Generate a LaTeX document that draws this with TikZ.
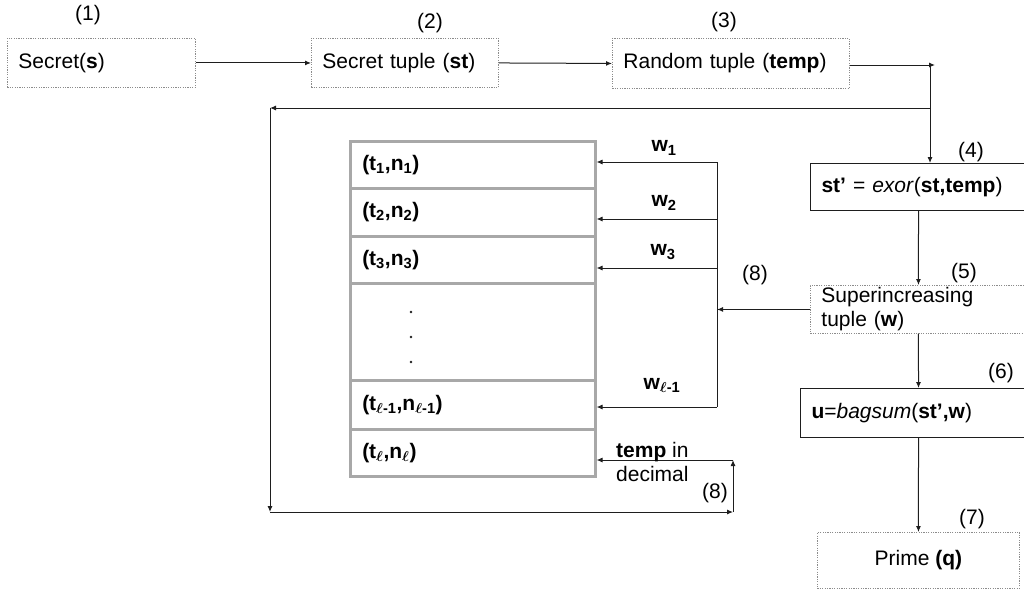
\documentclass[tikz,border=0pt]{standalone}
\usepackage{amsmath}
\usepackage{fontspec}
\setmainfont{Liberation Sans}
\usetikzlibrary{arrows.meta}
\definecolor{boxgray}{HTML}{8C8C8C}
\definecolor{rowgray}{HTML}{A8A8A8}
\definecolor{linegray}{HTML}{1E1E1E}

\begin{document}
\begin{tikzpicture}[x=1pt,y=-1pt,
  every node/.style={font=\fontsize{21}{24}\selectfont, text=black},
  dotbox/.style={draw=boxgray, dash pattern=on 1.2pt off 1.2pt, line width=0.9pt, rectangle, anchor=north west, align=left, inner xsep=11pt, inner ysep=0pt},
  solidbox/.style={draw=linegray, line width=1pt, rectangle, anchor=north west, align=left, inner xsep=11pt, inner ysep=0pt},
  rowbox/.style={draw=rowgray, line width=2.5pt, rectangle, anchor=north west, align=left, inner xsep=12pt, inner ysep=0pt, minimum width=245pt, text width=221pt},
  flow/.style={draw=linegray, line width=1pt, -{Latex[length=6pt,width=5pt]}},
  wire/.style={draw=linegray, line width=1pt},
  numlabel/.style={inner sep=0pt}]
\useasboundingbox (0,0) rectangle (1024,592);

% top row
\node[dotbox, text width=166pt, minimum height=49pt] (secret) at (7,38) {Secret(\textbf{s})};
\node[dotbox, text width=165pt, minimum height=49pt] (tuple) at (311,38) {Secret tuple (\textbf{st})};
\node[dotbox, text width=215pt, minimum height=50pt] (rand) at (612,38) {Random tuple (\textbf{temp})};
\node[numlabel] (n1) at (88,15) {(1)};
\node[numlabel] (n2) at (430,23) {(2)};
\node[numlabel] (n3) at (724,22) {(3)};

% right column
\node[solidbox, text width=194pt, minimum height=47pt] (xor) at (810,163) {\textbf{st'} = \textit{exor}(\textbf{st,temp})};
\node[dotbox, text width=194pt, minimum height=48pt] (sup) at (810,285) {Superincreasing\\tuple (\textbf{w})};
\node[solidbox, text width=214pt, minimum height=49pt] (bag) at (800,388) {\textbf{u}=\textit{bagsum}(\textbf{st',w})};
\node[dotbox, minimum width=202pt, minimum height=56pt, align=center] (prime) at (817,532) {Prime \textbf{(q)}};
\node[numlabel] (n4) at (971,152) {(4)};
\node[numlabel] (n5) at (964,273) {(5)};
\node[numlabel] (n6) at (1001,373) {(6)};
\node[numlabel] (n7) at (972,519) {(7)};

% table
\node[rowbox, minimum height=47pt] (r1) at (349,140) {\textbf{(t\textsubscript{1},n\textsubscript{1})}};
\node[rowbox, minimum height=48pt] (r2) at (349,187) {\textbf{(t\textsubscript{2},n\textsubscript{2})}};
\node[rowbox, minimum height=47pt] (r3) at (349,235) {\textbf{(t\textsubscript{3},n\textsubscript{3})}};
\node[rowbox, minimum height=97pt] (rdots) at (349,282) {};
\node[rowbox, minimum height=49pt] (rl1) at (349,379) {\textbf{(t\textsubscript{$\boldsymbol\ell$-1},n\textsubscript{$\boldsymbol\ell$-1})}};
\node[rowbox, minimum height=47pt] (rl) at (349,428) {\textbf{(t\textsubscript{$\boldsymbol\ell$},n\textsubscript{$\boldsymbol\ell$})}};
\foreach \y in {312,337,362}
  \fill[linegray] (411,\y) circle (1.4pt);

% main flow
\draw[flow] (secret.east) -- (tuple.west);
\draw[flow] (tuple.east) -- (rand.west);
\coordinate (loopR) at (930,65);
\draw[flow] (rand.east |- loopR) -- ([xshift=5pt]loopR);
\draw[flow] (loopR) -- (loopR |- xor.north);
\draw[flow] (xor.south) -- (sup.north);
\draw[flow] (sup.south) -- (bag.north);
\draw[flow] (bag.south) -- (prime.north);

% weights into the table
\coordinate (bw1) at (717,162);
\coordinate (bw2) at (717,219);
\coordinate (bw3) at (717,268);
\coordinate (bwl) at (717,407);
\draw[wire] (bw1) -- (bwl);
\draw[flow] (bw1) -- (bw1 -| r1.east);
\draw[flow] (bw2) -- (bw2 -| r2.east);
\draw[flow] (bw3) -- (bw3 -| r3.east);
\draw[flow] (bwl) -- (bwl -| rl1.east);
\draw[flow] (sup.west) -- (sup.west -| bw1);
\node[numlabel] (lw1) at (664,148) {\textbf{w\textsubscript{1}}};
\node[numlabel] (lw2) at (664,203) {\textbf{w\textsubscript{2}}};
\node[numlabel] (lw3) at (663,252) {\textbf{w\textsubscript{3}}};
\node[numlabel] (lwl) at (662,385) {\textbf{w\textsubscript{$\boldsymbol\ell$-1}}};
\node[numlabel] (n8) at (755,275) {(8)};

% feedback loop
\coordinate (backR) at (930,108);
\coordinate (backL) at (270,108);
\coordinate (botL) at (270,512);
\coordinate (botR) at (733,512);
\coordinate (upT) at (733,460);
\draw[flow] (backR) -- (backL);
\draw[flow] (backL) -- (botL);
\draw[flow] (botL) -- (botR);
\draw[flow] (botR) -- (upT);
\draw[flow] (upT) -- (upT -| rl.east);
\node[numlabel, anchor=west, align=left] (tdec) at (616,462) {\textbf{temp} in\\decimal};
\node[numlabel] (n8b) at (715,493) {(8)};
\end{tikzpicture}
\end{document}
